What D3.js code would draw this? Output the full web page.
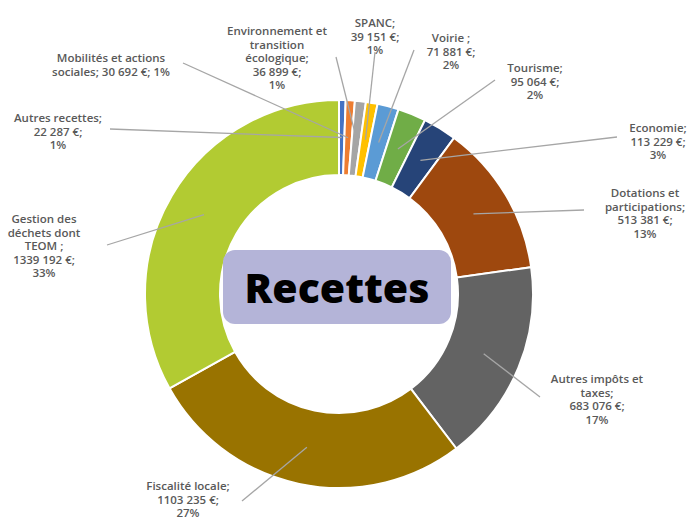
<!DOCTYPE html>
<html><head><meta charset="utf-8">
<script src="https://cdn.jsdelivr.net/npm/d3@7"></script>
<style>html,body{margin:0;padding:0;background:#fff;}svg{display:block;}</style>
</head><body>
<svg id="chart" width="692" height="520"></svg>
<script>
const categories = ["Autres recettes","Mobilités et actions sociales","Environnement et transition écologique","SPANC","Voirie","Tourisme","Economie","Dotations et participations","Autres impôts et taxes","Fiscalité locale","Gestion des déchets dont TEOM"];
const values = [22287,30692,36899,39151,71881,95064,113229,513381,683076,1103235,1339192];
const colors = ["#4472C4","#ED7D31","#A5A5A5","#FFC000","#5B9BD5","#70AD47","#264478","#9E480E","#636363","#997300","#B2CB32"];
const labelLines = [
  ["Autres recettes;","22 287 €;","1%"],
  ["Mobilités et actions","sociales; 30 692 €; 1%"],
  ["Environnement et","transition","écologique;","36 899 €;","1%"],
  ["SPANC;","39 151 €;","1%"],
  ["Voirie ;","71 881 €;","2%"],
  ["Tourisme;","95 064 €;","2%"],
  ["Economie;","113 229 €;","3%"],
  ["Dotations et","participations;","513 381 €;","13%"],
  ["Autres impôts et","taxes;","683 076 €;","17%"],
  ["Fiscalité locale;","1103 235 €;","27%"],
  ["Gestion des","déchets dont","TEOM ;","1339 192 €;","33%"]
];
// label layout: [text center x, first line y, leader start x, leader start y]
const labelPos = [
  [58,118,110,129],
  [111,58,183,63],
  [277,31,336,57],
  [375,23,375,52],
  [451,38,414,50],
  [535,68,495,80],
  [658,128,617,137],
  [645,193,584,210],
  [597,379,540,397],
  [188,486,242,501],
  [44,219,107,245]
];
const centerTitle = "Recettes";

const svg = d3.select("#chart");
const cx = 339, cy = 294, rOuter = 194, rInner = 119;
const g = svg.append("g").attr("transform", `translate(${cx},${cy})`);

const pie = d3.pie().value(d => d).sort(null);
const arcs = pie(values);
const arc = d3.arc().innerRadius(rInner).outerRadius(rOuter);
const color = d3.scaleOrdinal().domain(d3.range(values.length)).range(colors);

g.selectAll("path.slice").data(arcs).enter().append("path")
  .attr("class","slice")
  .attr("d", arc)
  .attr("fill", (d,i) => color(i))
  .attr("stroke", "#fff")
  .attr("stroke-width", 2);

const mid = d3.arc().innerRadius((rInner+rOuter)/2).outerRadius((rInner+rOuter)/2);

// leader lines
arcs.forEach((d,i) => {
  const c = mid.centroid(d);
  const p = labelPos[i];
  svg.append("line")
    .attr("x1", p[2]).attr("y1", p[3])
    .attr("x2", cx + c[0]).attr("y2", cy + c[1])
    .attr("stroke", "#A6A6A6").attr("stroke-width", 1.3);
});

// labels
labelLines.forEach((lines,i) => {
  const p = labelPos[i];
  const t = svg.append("text")
    .attr("text-anchor","middle")
    .attr("font-family","'Open Sans', sans-serif")
    .attr("font-weight","600")
    .attr("font-size","11.5px")
    .attr("fill","#595959");
  lines.forEach((l,j) => {
    t.append("tspan").attr("x", p[0]).attr("y", p[1] + j*13.6 + 4).text(l);
  });
});

// center title box
svg.append("rect")
  .attr("x", 223).attr("y", 250).attr("width", 228).attr("height", 74)
  .attr("rx", 12).attr("ry", 12)
  .attr("fill", "#B4B4D8");
svg.append("text")
  .attr("x", 337).attr("y", 303)
  .attr("text-anchor","middle")
  .attr("font-family","'Open Sans', sans-serif")
  .attr("font-weight","800")
  .attr("font-size","41px")
  .attr("fill","#000")
  .text(centerTitle);
</script>
</body></html>
